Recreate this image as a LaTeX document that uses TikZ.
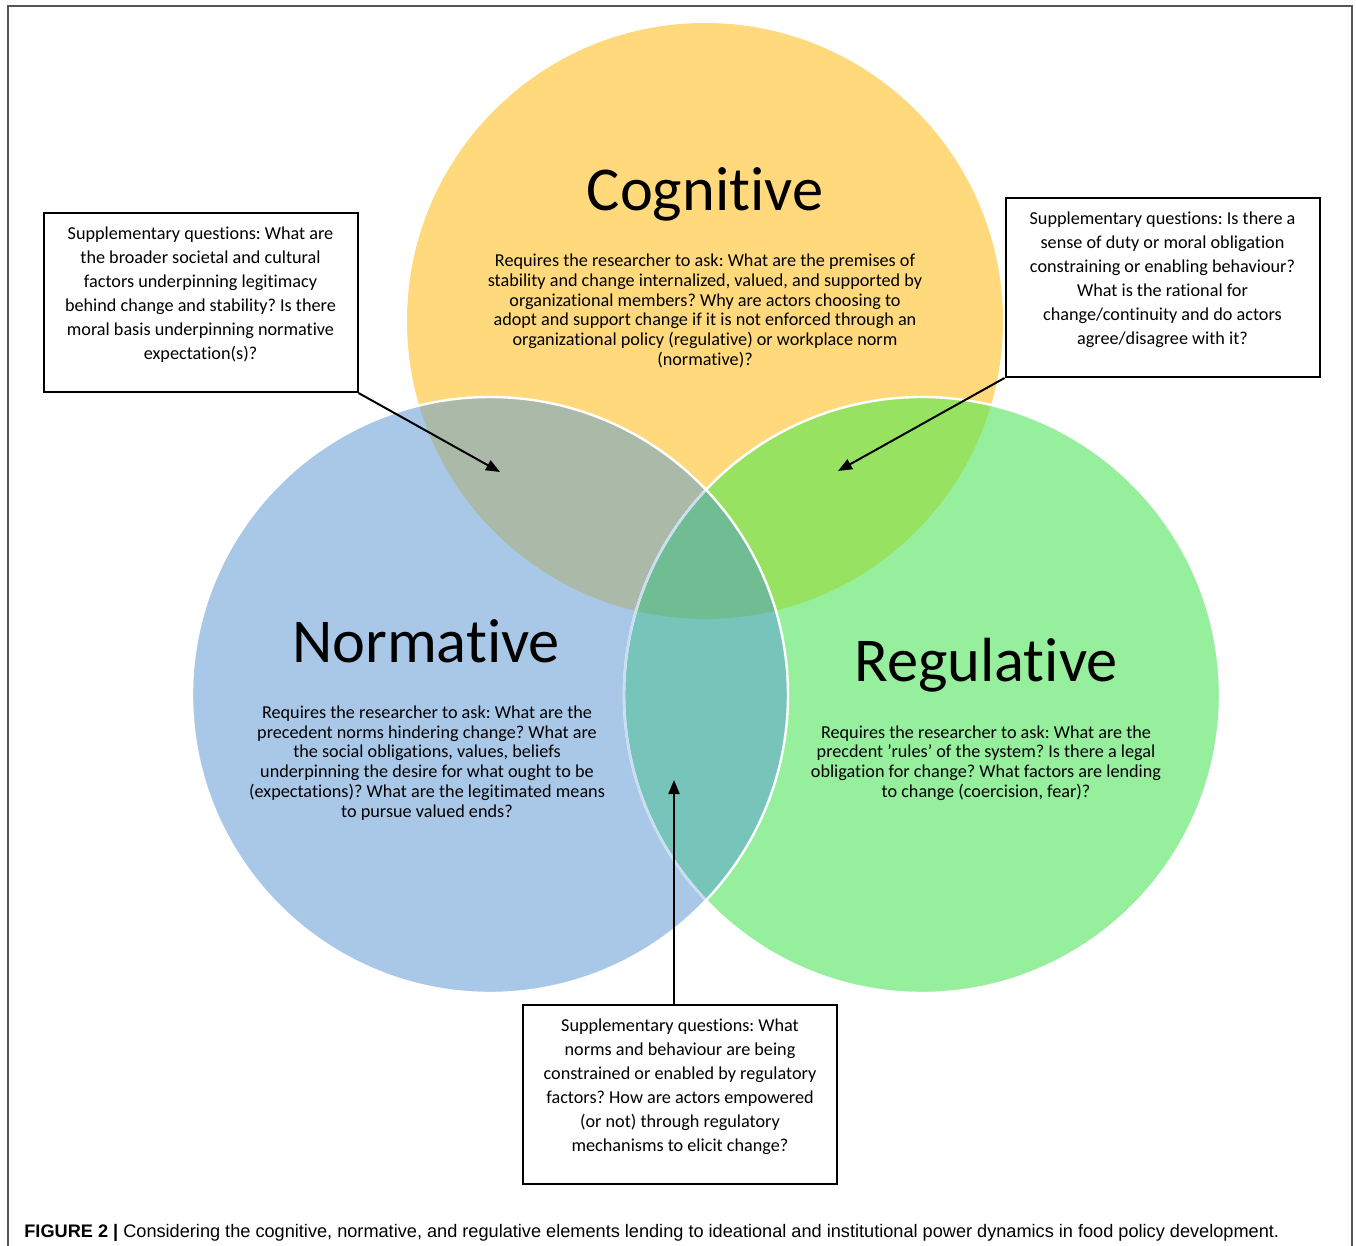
\documentclass[tikz,border=0pt]{standalone}
\usepackage{fontspec}
\setmainfont{Carlito}[Ligatures={TeX,CommonOff,RareOff,ContextualOff}, Contextuals=AlternateOff]
\newfontfamily\capfont{Liberation Sans}
\usepackage{xcolor}
\usetikzlibrary{positioning,arrows.meta}
\frenchspacing

\definecolor{cogyellow}{HTML}{FFD97C}
\definecolor{norblue}{HTML}{A9C8E8}
\definecolor{reggreen}{HTML}{95EF9C}
\definecolor{cognor}{HTML}{ABB9A8}
\definecolor{cogreg}{HTML}{98E262}
\definecolor{norreg}{HTML}{77C5BA}
\definecolor{allthree}{HTML}{70BD94}
\definecolor{rimblue}{HTML}{C9DEF2}
\definecolor{framegray}{HTML}{555555}

\newcommand{\qtext}[1]{\parbox[c][76pt][t]{156pt}{\centering #1}}

\begin{document}
\begin{tikzpicture}[x=0.5pt, y=-0.5pt,
  title/.style={font=\fontsize{31.2}{36}\selectfont, anchor=base, inner sep=0pt},
  body/.style={font=\fontsize{9.1}{9.9}\selectfont, align=center, inner sep=0pt},
  qbox/.style={draw, line width=1pt, fill=white, inner sep=0pt,
    minimum width=157pt, minimum height=89.5pt, font=\fontsize{9.1}{12}\selectfont},
  arr/.style={line width=1pt, -{Triangle[length=7pt, width=5.5pt]}},
  rim/.style={white, line width=1.2pt}
]
\useasboundingbox (0,0) rectangle (1356,1246);

% frame
\draw[framegray, line width=0.6pt] (8,1246) -- (8,6) -- (1352,6) -- (1352,1246);

% circle centres
\coordinate (cogc) at (705,321);
\coordinate (norc) at (490,695);
\coordinate (regc) at (922,695);

% plain discs
\fill[cogyellow] (cogc) circle[radius=298];
\fill[norblue] (norc) circle[radius=298];
\fill[reggreen] (regc) circle[radius=298];

% overlaps
\begin{scope}
  \clip (cogc) circle[radius=298];
  \fill[cognor] (norc) circle[radius=298];
  \fill[cogreg] (regc) circle[radius=298];
\end{scope}
\begin{scope}
  \clip (norc) circle[radius=298];
  \fill[norreg] (regc) circle[radius=298];
\end{scope}
\begin{scope}
  \clip (cogc) circle[radius=298];
  \clip (norc) circle[radius=298];
  \fill[allthree] (regc) circle[radius=298];
\end{scope}

% rims
\draw[rim] (regc) circle[radius=298];
\begin{scope}
  \clip (norc) circle[radius=298];
  \draw[rim, rimblue] (regc) circle[radius=298];
\end{scope}
\draw[rim] (norc) circle[radius=298];

% circle texts
\node[title] (cogt) at (705,211) {Cognitive};
\node[body] (cogb) at (705,311) {Requires the researcher to ask: What are the premises of\\
  stability and change internalized, valued, and supported by\\
  organizational members? Why are actors choosing to\\
  adopt and support change if it is not enforced through an\\
  organizational policy (regulative) or workplace norm\\
  (normative)?};

\node[title] (nort) at (426,662) {Normative};
\node[body] (norb) at (427,763) {Requires the researcher to ask: What are the\\
  precedent norms hindering change? What are\\
  the social obligations, values, beliefs\\
  underpinning the desire for what ought to be\\
  (expectations)? What are the legitimated means\\
  to pursue valued ends?};

\node[title] (regt) at (986,681) {Regulative};
\node[body] (regb) at (986,763) {Requires the researcher to ask: What are the\\
  precdent 'rules' of the system? Is there a legal\\
  obligation for change? What factors are lending\\
  to change (coercision, fear)?};

% question boxes
\node[qbox] (cnbox) at (200.5,302.5) {\qtext{Supplementary questions: What are\\
  the broader societal and cultural\\
  factors underpinning legitimacy\\
  behind change and stability? Is there\\
  moral basis underpinning normative\\
  expectation(s)?}};
\node[qbox] (crbox) at (1162.5,287.5) {\qtext{Supplementary questions: Is there a\\
  sense of duty or moral obligation\\
  constraining or enabling behaviour?\\
  What is the rational for\\
  change/continuity and do actors\\
  agree/disagree with it?}};
\node[qbox] (nrbox) at (680,1094.5) {\qtext{Supplementary questions: What\\
  norms and behaviour are being\\
  constrained or enabled by regulatory\\
  factors? How are actors empowered\\
  (or not) through regulatory\\
  mechanisms to elicit change?}};

% arrows into the overlaps
\coordinate (cntip) at (500,472);
\coordinate (crtip) at (838,471);
\coordinate (nrtip) at (674,780);
\draw[arr] (cnbox.south east) -- (cntip);
\draw[arr] (crbox.south west) -- (crtip);
\draw[arr] (nrtip |- nrbox.north) -- (nrtip);

% caption
\node[anchor=base west, inner sep=0pt, font=\capfont\fontsize{9.08}{11}\selectfont] (cap) at (24,1237)
  {\textbf{FIGURE 2 |} Considering the cognitive, normative, and regulative elements lending to ideational and institutional power dynamics in food policy development.};

\end{tikzpicture}
\end{document}
